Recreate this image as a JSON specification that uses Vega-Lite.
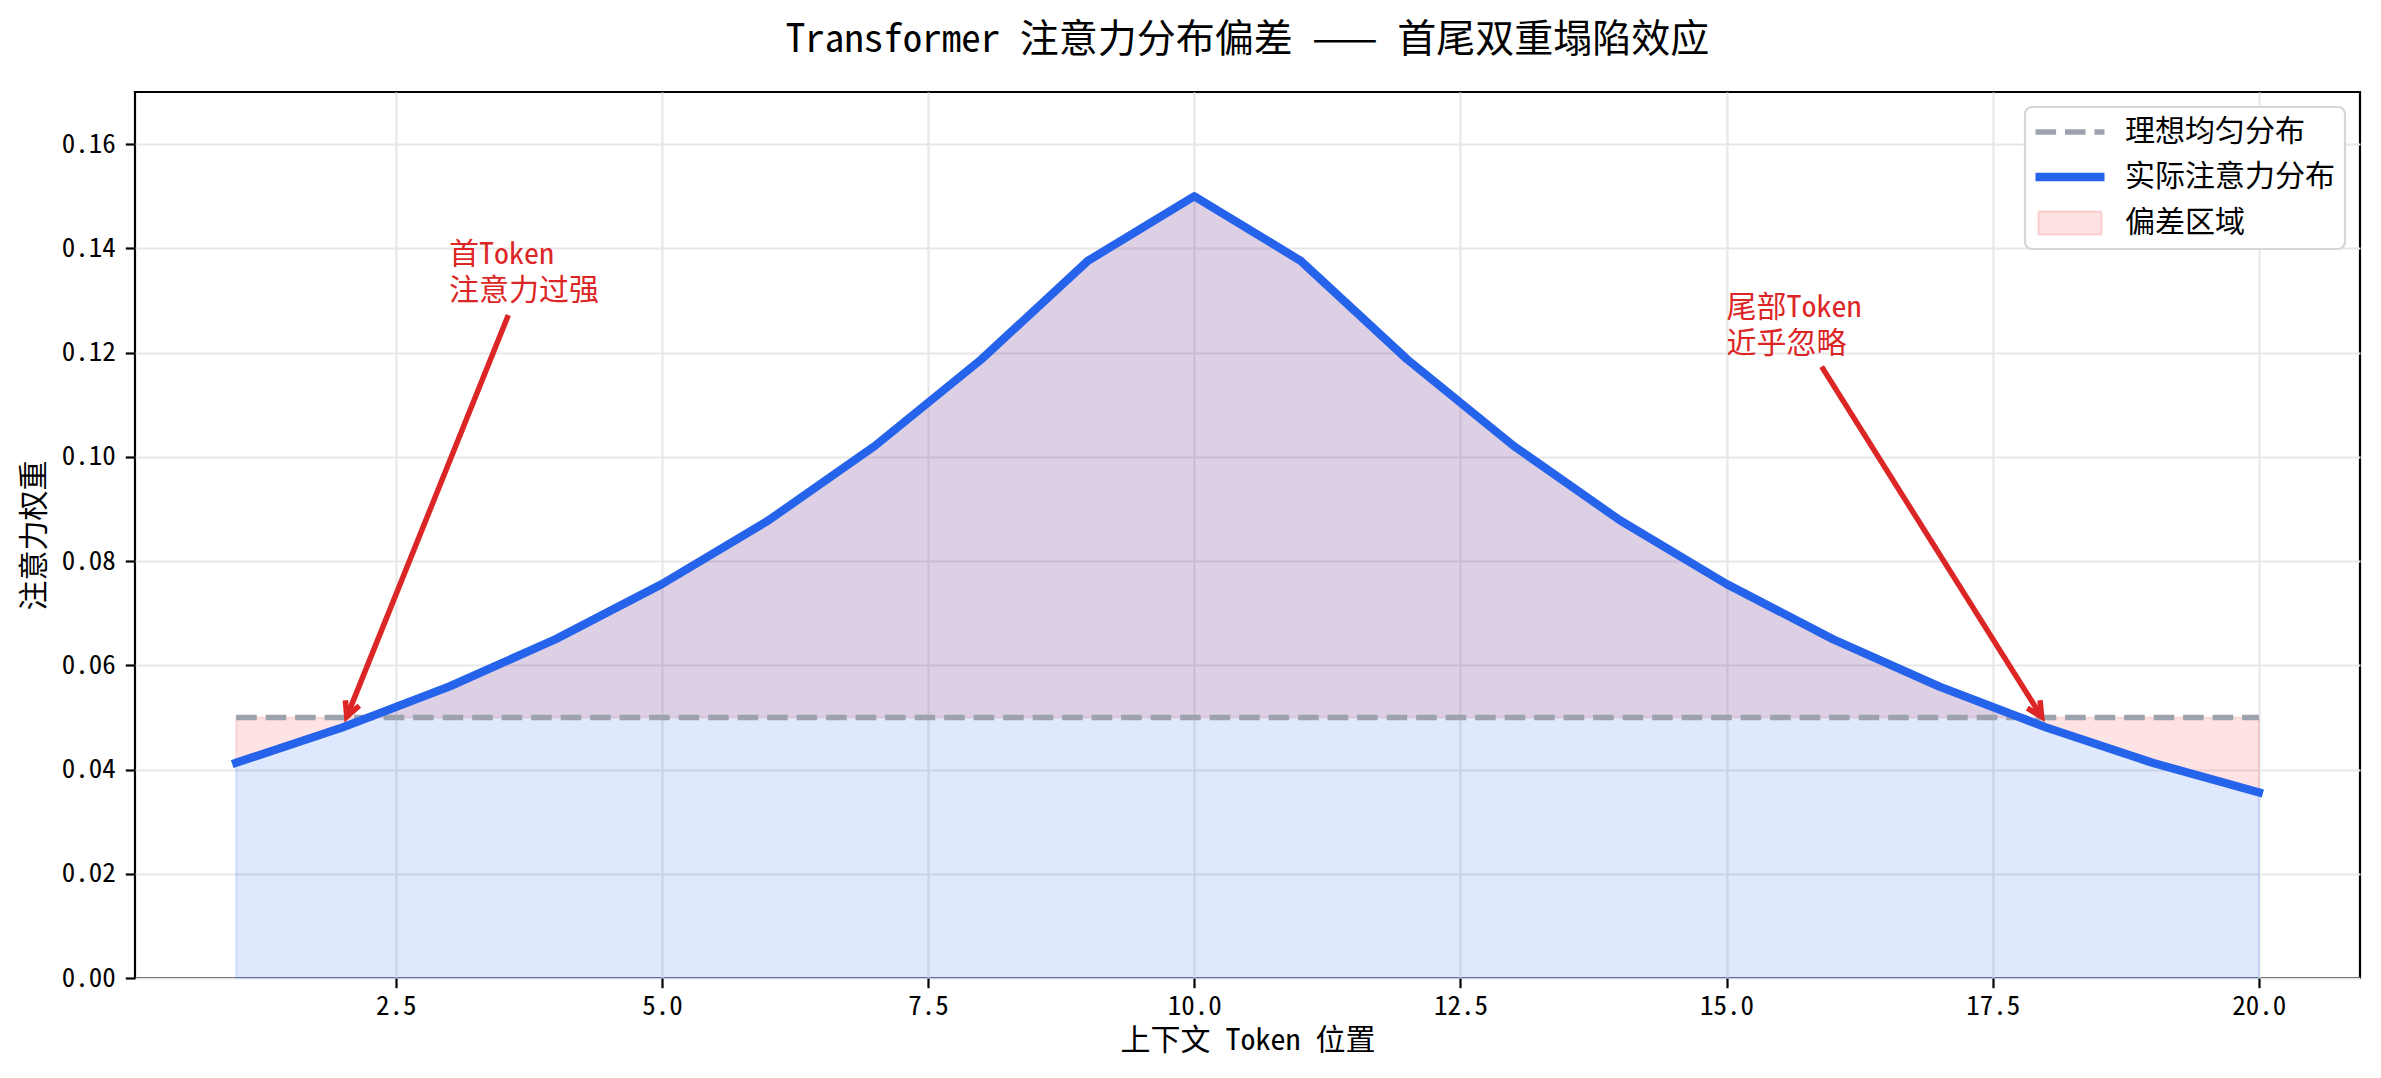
{
  "$schema": "https://vega.github.io/schema/vega-lite/v6.json",
  "autosize": {"type": "none"},
  "width": 2225,
  "height": 886,
  "padding": {"left": 135, "top": 92, "right": 21, "bottom": 100},
  "background": "white",
  "title": {
    "text": "Transformer 注意力分布偏差 —— 首尾双重塌陷效应",
    "fontSize": 39,
    "font": "Noto Sans Mono CJK SC, DejaVu Sans Mono, Noto Sans CJK SC",
    "fontWeight": "normal",
    "color": "black",
    "anchor": "middle",
    "offset": 32
  },
  "datasets": {
    "curve": [
      {"x": 1, "attn": 0.0413, "uniform": 0.05},
      {"x": 2, "attn": 0.0481, "uniform": 0.05},
      {"x": 3, "attn": 0.0559, "uniform": 0.05},
      {"x": 4, "attn": 0.0650, "uniform": 0.05},
      {"x": 5, "attn": 0.0756, "uniform": 0.05},
      {"x": 6, "attn": 0.0878, "uniform": 0.05},
      {"x": 7, "attn": 0.1021, "uniform": 0.05},
      {"x": 8, "attn": 0.1187, "uniform": 0.05},
      {"x": 9, "attn": 0.1376, "uniform": 0.05},
      {"x": 10, "attn": 0.1500, "uniform": 0.05},
      {"x": 11, "attn": 0.1376, "uniform": 0.05},
      {"x": 12, "attn": 0.1187, "uniform": 0.05},
      {"x": 13, "attn": 0.1021, "uniform": 0.05},
      {"x": 14, "attn": 0.0878, "uniform": 0.05},
      {"x": 15, "attn": 0.0756, "uniform": 0.05},
      {"x": 16, "attn": 0.0650, "uniform": 0.05},
      {"x": 17, "attn": 0.0559, "uniform": 0.05},
      {"x": 18, "attn": 0.0481, "uniform": 0.05},
      {"x": 19, "attn": 0.0413, "uniform": 0.05},
      {"x": 20, "attn": 0.0356, "uniform": 0.05}
    ],
    "notes": [
      {"id": 1, "label": ["首Token", "注意力过强"], "tx": 3, "ty": 0.13, "x0": 3.557, "y0": 0.1272, "x1": 2.039, "y1": 0.0501},
      {"id": 2, "label": ["尾部Token", "近乎忽略"], "tx": 15, "ty": 0.12, "x0": 15.893, "y0": 0.1173, "x1": 17.96, "y1": 0.0501}
    ]
  },
  "config": {
    "view": {"stroke": "black", "strokeWidth": 2.2},
    "axis": {
      "labelFont": "Noto Sans Mono CJK SC, DejaVu Sans Mono, Noto Sans CJK SC",
      "labelFontSize": 27,
      "labelColor": "black",
      "titleFont": "Noto Sans Mono CJK SC, DejaVu Sans Mono, Noto Sans CJK SC",
      "titleFontSize": 30,
      "titleFontWeight": "normal",
      "titleColor": "black",
      "tickColor": "black",
      "tickWidth": 2.2,
      "tickSize": 9.7,
      "domain": false,
      "gridColor": "#e7e7e7",
      "gridWidth": 2.2,
      "labelFlush": false,
      "labelOverlap": false
    }
  },
  "layer": [
    {
      "data": {"name": "curve"},
      "mark": {"type": "area", "fillOpacity": 0.15, "stroke": "#ef4444", "strokeOpacity": 0.15, "strokeWidth": 2},
      "encoding": {
        "x": {
          "field": "x", "type": "quantitative",
          "scale": {"domain": [0.05, 20.95], "nice": false, "zero": false},
          "axis": {
            "values": [2.5, 5, 7.5, 10, 12.5, 15, 17.5, 20],
            "format": ".1f",
            "title": "上下文 Token 位置",
            "labelPadding": 6,
            "titlePadding": 6
          }
        },
        "y": {
          "field": "attn", "type": "quantitative",
          "scale": {"domain": [0, 0.17], "nice": false, "zero": false},
          "axis": {
            "values": [0, 0.02, 0.04, 0.06, 0.08, 0.1, 0.12, 0.14, 0.16],
            "format": ".2f",
            "title": "注意力权重",
            "labelPadding": 10,
            "titlePadding": 12
          }
        },
        "y2": {"field": "uniform"},
        "color": {
          "datum": "偏差区域", "type": "nominal",
          "scale": {
            "domain": ["理想均匀分布", "实际注意力分布", "偏差区域"],
            "range": ["#9ca3af", "#2563eb", "#ef4444"]
          },
          "legend": {
            "title": null,
            "orient": "top-right",
            "offset": 15,
            "padding": 10,
            "rowPadding": 13,
            "labelFont": "Noto Sans Mono CJK SC, DejaVu Sans Mono, Noto Sans CJK SC",
            "labelFontSize": 30,
            "labelColor": "black",
            "labelLimit": 400,
            "symbolSize": 900,
            "symbolOffset": 20,
            "labelOffset": 40,
            "fillColor": "white",
            "strokeColor": "#d6d6d6",
            "cornerRadius": 7,
            "encoding": {
              "legend": {"strokeWidth": {"value": 2.2}},
              "symbols": {
                "shape": {"value": {"expr": "datum.value === '偏差区域' ? 'M-2.1,-0.77H2.1V0.77H-2.1Z' : 'M-2.3,0H2.3'"}},
                "strokeWidth": {"value": {"expr": "datum.value === '理想均匀分布' ? 5.5 : datum.value === '实际注意力分布' ? 8.3 : 2"}},
                "strokeDash": {"value": {"expr": "datum.value === '理想均匀分布' ? [20.6, 8.9] : [1, 0]"}},
                "opacity": {"value": 1},
                "fillOpacity": {"value": {"expr": "datum.value === '偏差区域' ? 0.15 : 0"}},
                "strokeOpacity": {"value": {"expr": "datum.value === '偏差区域' ? 0.2 : 1"}},
                "size": {"value": 900}
              }
            }
          }
        }
      }
    },
    {
      "data": {"name": "curve"},
      "mark": {"type": "area", "color": "#2563eb", "fillOpacity": 0.15, "stroke": "#2563eb", "strokeOpacity": 0.15, "strokeWidth": 2},
      "encoding": {
        "x": {"field": "x", "type": "quantitative"},
        "y": {"field": "attn", "type": "quantitative"},
        "y2": {"datum": 0}
      }
    },
    {
      "data": {"name": "curve"},
      "mark": {"type": "line", "strokeWidth": 5.5, "strokeDash": [20.6, 8.9]},
      "encoding": {
        "x": {"field": "x", "type": "quantitative"},
        "y": {"field": "uniform", "type": "quantitative"},
        "color": {"datum": "理想均匀分布", "type": "nominal"}
      }
    },
    {
      "data": {"name": "curve"},
      "mark": {"type": "line", "strokeWidth": 8.3, "strokeJoin": "round", "strokeCap": "square"},
      "encoding": {
        "x": {"field": "x", "type": "quantitative"},
        "y": {"field": "attn", "type": "quantitative"},
        "color": {"datum": "实际注意力分布", "type": "nominal"}
      }
    },
    {
      "data": {"name": "notes"},
      "mark": {"type": "rule", "color": "#dc2626", "strokeWidth": 5.5},
      "encoding": {
        "x": {"field": "x0", "type": "quantitative"},
        "y": {"field": "y0", "type": "quantitative"},
        "x2": {"field": "x1"},
        "y2": {"field": "y1"}
      }
    },
    {
      "data": {"name": "notes"},
      "transform": [{"filter": "datum.id == 1"}],
      "mark": {"type": "point", "shape": "M-0.5,1L0,0L0.5,1", "size": 900, "angle": 201.9, "filled": false, "stroke": "#dc2626", "strokeWidth": 5.5, "opacity": 1, "strokeJoin": "miter"},
      "encoding": {
        "x": {"field": "x1", "type": "quantitative"},
        "y": {"field": "y1", "type": "quantitative"}
      }
    },
    {
      "data": {"name": "notes"},
      "transform": [{"filter": "datum.id == 2"}],
      "mark": {"type": "point", "shape": "M-0.5,1L0,0L0.5,1", "size": 900, "angle": 147.85, "filled": false, "stroke": "#dc2626", "strokeWidth": 5.5, "opacity": 1, "strokeJoin": "miter"},
      "encoding": {
        "x": {"field": "x1", "type": "quantitative"},
        "y": {"field": "y1", "type": "quantitative"}
      }
    },
    {
      "data": {"name": "notes"},
      "mark": {"type": "text", "align": "left", "baseline": "alphabetic", "dy": -36, "lineHeight": 36, "fontSize": 30, "font": "Noto Sans Mono CJK SC, DejaVu Sans Mono, Noto Sans CJK SC", "color": "#dc2626"},
      "encoding": {
        "x": {"field": "tx", "type": "quantitative"},
        "y": {"field": "ty", "type": "quantitative"},
        "text": {"field": "label", "type": "nominal"}
      }
    }
  ]
}
